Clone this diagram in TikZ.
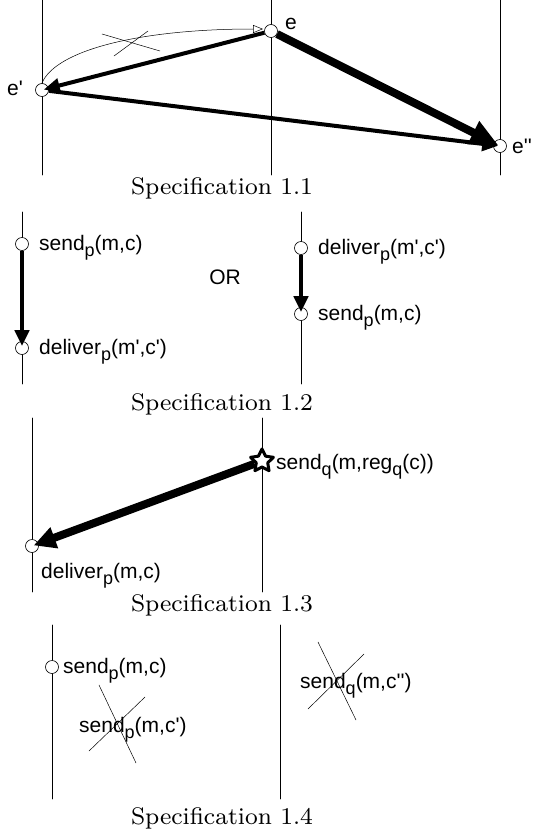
\documentclass[tikz,border=0pt]{standalone}
\usepackage{fontspec}
\newfontfamily\labelfont{Liberation Sans}
\usetikzlibrary{arrows.meta,shapes.geometric}
\newcommand{\lowsub}[1]{\raisebox{-6pt}{\fontsize{18}{18}\selectfont #1}}
\newcommand{\spec}[1]{\scalebox{3.0}{\fontsize{8}{9}\selectfont Specification #1}}
\begin{document}
\begin{tikzpicture}[x=1pt, y=-1pt, line join=round, line cap=round,
    ev/.style={circle, draw, fill=white, inner sep=0pt, minimum size=13pt, line width=0.6pt},
    lbl/.style={anchor=base west, inner sep=0pt, font=\labelfont\fontsize{21}{24}\selectfont},
    caption/.style={inner sep=0pt},
    life/.style={line width=0.7pt},
    msg/.style={line width=4pt, line cap=butt, shorten >=-5pt, -{Triangle[length=16pt,width=14pt]}},
    bigmsg/.style={line width=8pt, line cap=butt, shorten >=-5pt, -{Triangle[length=28pt,width=24pt]}}]
    \useasboundingbox (0,0) rectangle (534,833);

    % Specification 1.1
    \foreach \x in {42, 271, 500} {
        \draw[life] (\x,0) -- (\x,175);
    }
    \draw[line width=0.5pt] (102,34) -- (160,51) (114,56) -- (148,31);
    \draw[line width=0.5pt, -{Triangle[open,length=10pt,width=8pt]}]
        (42,83) .. controls (56,50) and (140,29) .. (263,29);
    \node[ev] (e) at (271,31) {};
    \node[ev] (e1) at (42,90) {};
    \node[ev] (e2) at (500,146) {};
    \draw[msg] (e) -- (e1);
    \draw[msg] (e1) -- (e2);
    \draw[bigmsg] (e) -- (e2);
    \node[lbl] (le) at (285,29) {e};
    \node[lbl] (le1) at (7,95) {e'};
    \node[lbl] (le2) at (512,153) {e''};
    \node[caption] (cap1) at (222,188) {\spec{1.1}};

    % Specification 1.2
    \foreach \x in {22, 301} {
        \draw[life] (\x,212) -- (\x,384);
    }
    \foreach \id/\x/\y/\text in {
        s1/22/244/{send\lowsub{p}(m,c)},
        d1/22/348/{deliver\lowsub{p}(m',c')},
        d2/301/248/{deliver\lowsub{p}(m',c')},
        s2/301/314/{send\lowsub{p}(m,c)}%
    } {
        \node[ev] (\id) at (\x,\y) {};
        \node[lbl] (l\id) at ([xshift=17pt,yshift=-6pt]\id.center) {\text};
    }
    \draw[msg] (s1) -- (d1);
    \draw[msg] (d2) -- (s2);
    \node[lbl, anchor=center] (or) at (225,277) {OR};
    \node[caption] (cap2) at (222,404) {\spec{1.2}};

    % Specification 1.3
    \foreach \x in {32, 262} {
        \draw[life] (\x,418) -- (\x,592);
    }
    \node[ev] (dp) at (32,546) {};
    \node[star, star points=5, star point ratio=2.0, draw, fill=white, line width=3pt,
        inner sep=0pt, minimum size=24pt] (sq) at (262,461) {};
    \draw[msg, line width=8pt, -{Triangle[length=22pt,width=21pt]}] (sq) -- (dp);
    \node[lbl] (lsq) at (276,469) {send\lowsub{q}(m,reg\lowsub{q}(c))};
    \node[lbl] (ldp) at (41,578) {deliver\lowsub{p}(m,c)};
    \node[caption] (cap3) at (222,605) {\spec{1.3}};

    % Specification 1.4
    \foreach \x in {52, 280} {
        \draw[life] (\x,625) -- (\x,799);
    }
    \node[ev] (sp) at (52,667) {};
    \node[lbl] (lsp) at (63,673) {send\lowsub{p}(m,c)};
    \node[lbl] (lsp2) at (79,732) {send\lowsub{p}(m,c')};
    \node[lbl] (lsq2) at (300,688) {send\lowsub{q}(m,c'')};
    \draw[line width=0.5pt] (99,685) -- (136,763) (89,751) -- (145,697);
    \draw[line width=0.5pt] (318,642) -- (356,720) (308,709) -- (364,654);
    \node[caption] (cap4) at (222,818) {\spec{1.4}};
\end{tikzpicture}
\end{document}
